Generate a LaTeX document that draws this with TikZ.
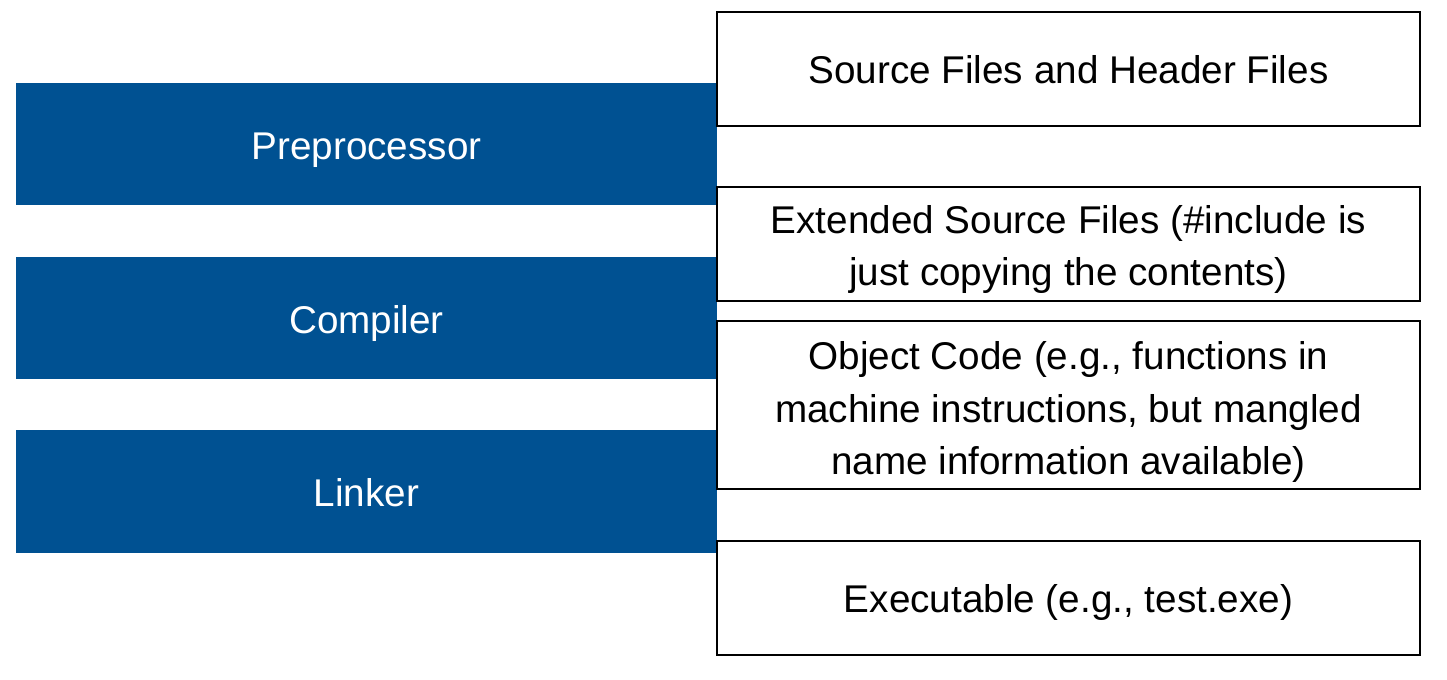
\documentclass[tikz,border=0pt]{standalone}
\usepackage{fontspec}
\setmainfont{Liberation Sans}
\usepackage{tikz}
\definecolor{stageblue}{RGB}{0,81,146}

\begin{document}
\begin{tikzpicture}[
  stage/.style={fill=stageblue, text=white, minimum width=14.02cm, minimum height=2.44cm, inner sep=0pt, text height=21.5pt, text depth=4pt, font=\fontsize{22}{30}\selectfont},
  artefact/.style={draw=black, fill=white, line width=1.6pt, minimum width=14.06cm, minimum height=2.28cm, inner sep=0pt, align=center, text height=21pt, text depth=4pt, font=\fontsize{22}{30}\selectfont}]
\useasboundingbox (0, 0) rectangle (28.94, -13.6);
\node[stage] (pre) at (7.33, -2.88) {Preprocessor};
\node[stage] (comp) at (7.33, -6.36) {Compiler};
\node[stage] (link) at (7.33, -9.83) {Linker};
\node[artefact] (src) at (21.37, -1.38) {Source Files and Header Files};
\node[artefact, text height=51.6pt] (ext) at (21.37, -4.88) {Extended Source Files (\#include is\\just copying the contents)};
\node[artefact, minimum height=3.36cm, text height=83.4pt] (obj) at (21.37, -8.10) {Object Code (e.g., functions in\\machine instructions, but mangled\\name information available)};
\node[artefact] (exe) at (21.37, -11.96) {Executable (e.g., test.exe)};
\end{tikzpicture}
\end{document}
